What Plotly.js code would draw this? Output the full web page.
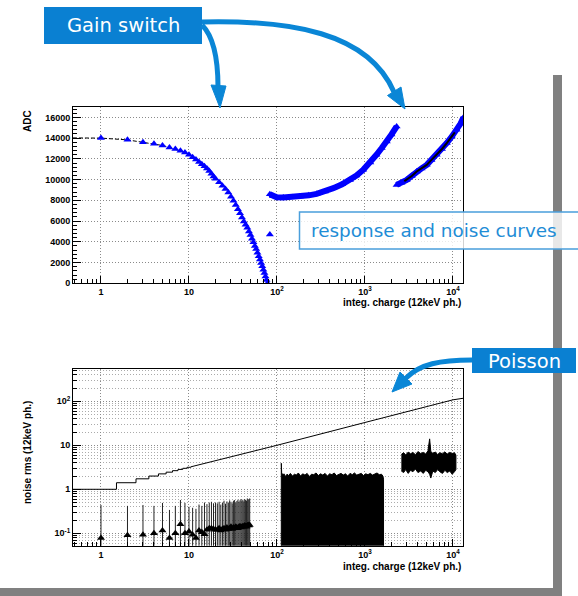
<!DOCTYPE html>
<html><head><meta charset="utf-8">
<script src="https://cdn.plot.ly/plotly-3.0.1.min.js"></script>
<style>html,body{margin:0;padding:0;background:#fff;} #chart{width:578px;height:596px;}</style>
</head><body><div id="chart"></div>
<script>
// ---------------- data ----------------
const xTickVals = [1, 10, 100, 1000, 10000];
const xTickText = ['1', '10', '10<sup>2</sup>', '10<sup>3</sup>', '10<sup>4</sup>'];
const adcTickVals = [0, 2000, 4000, 6000, 8000, 10000, 12000, 14000, 16000];
const adcTickText = ['0', '2000', '4000', '6000', '8000', '10000', '12000', '14000', '16000'];
const noiseTickVals = [0.1, 1, 10, 100];
const noiseTickText = ['10<sup>-1</sup>', '1', '10', '10<sup>2</sup>'];

// response curve, low gain (triangles)
const lowGainX = [1,2,3,4,5,6,7,8,9,10,11,12,13,14,15,16,17,18,19,20,22,24,26,28,30,32,34,36,38,40,42,44,46,48,50,52,54,56,58,60,62,64,66,68,70,72,74,76,78];
const lowGainADC = [14000,13830,13610,13450,13290,13100,12940,12775,12610,12390,12150,11930,11700,11480,11280,11080,10820,10560,10300,10080,9750,9400,9100,8750,8350,7950,7550,7150,6750,6350,5950,5650,5350,5000,4650,4300,3950,3600,3300,2950,2600,2300,1950,1650,1300,1000,650,320,0];
const lowFitX = [0.48,1,2,3,4,5,6,7,8,9,10];
const lowFitADC = [14020,14000,13830,13610,13450,13290,13100,12940,12775,12610,12390];
const strayX = [83];
const strayADC = [4700];
// response curve, medium gain
const midGainX = [83,90,99,118,150,182,230,282,350,437,550,675,800,955,1150,1350,1550,1770,2000,2290];
const midGainADC = [8590,8420,8300,8270,8300,8360,8480,8620,8850,9170,9550,9970,10400,10940,11650,12390,13050,13670,14350,15120];
// response curve, high gain
const highGainX = [2290,2600,2980,3400,3870,4400,5030,5700,6530,7500,8500,9700,11000,12200,13200];
const highGainADC = [9490,9700,9970,10350,10780,11080,11420,11900,12390,12950,13520,14150,14800,15400,16000];
const highFitX = [2800,3400,3870,4400,5030,5700,6530,7500,8500,9700,10500];
const highFitADC = [9850,10350,10780,11080,11420,11900,12390,12950,13520,14150,14550];

// Poisson expectation
const poissonStepX = [0.48,1.5,2.5,3.5,4.5,5.5,6.5,7.5,8.5,9.5,10.5];
const poissonStepY = [1,1.41,1.73,2,2.24,2.45,2.65,2.83,3,3.16,3.24];
const poissonLineX = [10.5,20,50,100,1000,10000,13000];
const poissonLineY = [3.24,4.47,7.07,10,33,108,117];

// noise, low gain (triangles + error bars)
const noiseLowX = [1,2,3,4,5,6,7,8,9,10,11,12,13,14,15,16,17,18,19,20,21,22,23,24,25,26,27,28,29,30,31,32,33,34,35,36,37,38,39,40,41,42,43,44,45,46,47,48,49];
const noiseLowY = [0.078,0.09,0.093,0.1,0.115,0.078,0.1,0.16,0.1,0.11,0.093,0.078,0.115,0.105,0.095,0.12,0.13,0.13,0.125,0.12,0.12,0.13,0.115,0.125,0.13,0.12,0.135,0.125,0.13,0.14,0.125,0.135,0.13,0.14,0.135,0.13,0.14,0.145,0.135,0.14,0.145,0.14,0.15,0.145,0.14,0.15,0.155,0.15,0.155];
const noiseLowTop = [0.44,0.42,0.44,0.42,0.49,0.34,0.42,0.57,0.49,0.4,0.38,0.36,0.45,0.42,0.5,0.46,0.5,0.52,0.48,0.5,0.48,0.52,0.45,0.5,0.55,0.47,0.53,0.5,0.56,0.52,0.48,0.55,0.57,0.5,0.54,0.58,0.52,0.56,0.6,0.55,0.58,0.53,0.6,0.57,0.55,0.62,0.58,0.6,0.62];

// noise, medium gain (dense band: upper envelope)
const noiseMidX = [112,113,116,120,125,130,136,142,150,158,166,175,185,196,208,220,233,247,262,278,295,313,332,352,374,397,421,447,474,503,534,566,600,637,676,717,760,806,855,907,962,1020,1082,1148,1218,1292,1370,1453,1541,1600,1625];
const noiseMidTop = [3.9,2.4,2.1,2.25,1.95,2.2,2.05,2.3,2.0,2.2,2.1,2.35,2.0,2.25,2.1,2.3,1.95,2.2,2.15,2.35,2.05,2.25,2.1,2.3,2.0,2.25,2.15,2.35,2.05,2.2,2.3,2.1,2.25,2.0,2.3,2.15,2.35,2.1,2.2,2.3,2.05,2.25,2.15,2.3,2.1,2.25,2.35,2.15,2.2,2.0,1.7];

// noise, high gain (band: upper and lower envelope)
const noiseHighX = [2590,2750,2900,3100,3300,3500,3750,4000,4300,4600,4900,5200,5430,5600,5900,6300,6700,7100,7600,8100,8600,9200,9800,10400,10800];
const noiseHighTop = [6.2,6.8,6.0,7.0,6.4,6.9,6.1,7.2,6.5,6.9,6.3,7.5,14,7.2,6.6,7.0,6.2,6.8,6.4,7.1,6.3,6.9,6.5,6.8,6.0];
const noiseHighBot = [2.6,2.4,2.8,2.3,2.7,2.5,2.9,2.4,2.6,2.3,2.7,2.5,2.2,1.8,2.6,2.4,2.8,2.5,2.3,2.7,2.4,2.6,2.2,2.5,2.8];

// ---------------- helpers ----------------
const W = 578, H = 596;
const PX = x => x / W;
const PY = y => 1 - y / H;
const pt = (x, y) => PX(x) + ',' + PY(y);
const FLOOR = 0.02; // below the visible bottom of the log noise axis

const minorLog = [];
[0.01, 0.1, 1, 10, 100, 1000, 10000].forEach(d => { for (let k = 2; k <= 9; k++) minorLog.push(+(d * k).toPrecision(3)); });

// ---------------- traces ----------------
const traces = [
  {x: lowFitX, y: lowFitADC, xaxis: 'x', yaxis: 'y', mode: 'lines', line: {color: '#000', width: 1, dash: '4px,2px'}, hoverinfo: 'skip'},
  {x: lowGainX, y: lowGainADC, xaxis: 'x', yaxis: 'y', mode: 'markers', marker: {symbol: 'triangle-up', size: 7, color: '#0000ff'}},
  {x: strayX, y: strayADC, xaxis: 'x', yaxis: 'y', mode: 'markers', marker: {symbol: 'triangle-up', size: 7, color: '#0000ff'}},
  {x: midGainX, y: midGainADC, xaxis: 'x', yaxis: 'y', mode: 'lines+markers', line: {color: '#0000ff', width: 6}, marker: {symbol: 'triangle-up', size: 7, color: '#0000ff'}},
  {x: highGainX, y: highGainADC, xaxis: 'x', yaxis: 'y', mode: 'lines+markers', line: {color: '#0000ff', width: 6}, marker: {symbol: 'triangle-up', size: 7, color: '#0000ff'}},
  {x: highFitX, y: highFitADC, xaxis: 'x', yaxis: 'y', mode: 'lines', line: {color: '#000', width: 2}},

  {x: poissonStepX, y: poissonStepY, xaxis: 'x2', yaxis: 'y2', mode: 'lines', line: {color: '#000', width: 1, shape: 'hv'}},
  {x: poissonLineX, y: poissonLineY, xaxis: 'x2', yaxis: 'y2', mode: 'lines', line: {color: '#000', width: 1}},
  {x: noiseLowX, y: noiseLowY, xaxis: 'x2', yaxis: 'y2', mode: 'markers',
   marker: {symbol: 'triangle-up', size: 7, color: '#000'},
   error_y: {type: 'data', symmetric: false,
             array: noiseLowTop.map((t, i) => t - noiseLowY[i]),
             arrayminus: noiseLowY.map(v => v - FLOOR),
             color: '#222', thickness: 1, width: 0}},
  {x: [noiseMidX[0]].concat(noiseMidX, [noiseMidX[noiseMidX.length - 1]]),
   y: [FLOOR].concat(noiseMidTop, [FLOOR]),
   xaxis: 'x2', yaxis: 'y2', mode: 'lines', fill: 'toself', fillcolor: '#000', line: {color: '#000', width: 1}},
  {x: noiseHighX.concat(noiseHighX.slice().reverse()),
   y: noiseHighTop.concat(noiseHighBot.slice().reverse()),
   xaxis: 'x2', yaxis: 'y2', mode: 'lines', fill: 'toself', fillcolor: '#000', line: {color: '#000', width: 1}}
];

// ---------------- layout ----------------
const tickFont = {family: 'Liberation Sans, Arial, sans-serif', size: 9, color: '#000', weight: 'bold'};
const frame = {showline: true, linecolor: '#000', linewidth: 1, mirror: true, ticks: 'inside', tickcolor: '#000',
               zeroline: false, showgrid: true, gridcolor: '#8a8a8a', gridwidth: 1, griddash: '1px,2px', tickfont: tickFont};
const xDomain = [PX(73), PX(463)];
const xAxisBase = Object.assign({}, frame, {type: 'log', domain: xDomain, range: [-0.318, 4.114],
  tickmode: 'array', tickvals: xTickVals, ticktext: xTickText, ticklen: 7,
  minor: {tickmode: 'array', tickvals: minorLog, ticks: 'inside', ticklen: 4, tickcolor: '#000', showgrid: false}});

const layout = {
  width: W, height: H, margin: {l: 0, r: 0, t: 0, b: 0},
  paper_bgcolor: '#fff', plot_bgcolor: '#fff', showlegend: false,
  font: {family: 'Liberation Sans, Arial, sans-serif', color: '#000'},
  xaxis: Object.assign({}, xAxisBase, {anchor: 'y'}),
  yaxis: Object.assign({}, frame, {anchor: 'x', domain: [PY(283.3), PY(107)], range: [0, 17000],
    tickmode: 'array', tickvals: adcTickVals, ticktext: adcTickText, ticklen: 8,
    minor: {dtick: 400, tick0: 0, ticks: 'inside', ticklen: 4, tickcolor: '#000', showgrid: false}}),
  xaxis2: Object.assign({}, xAxisBase, {anchor: 'y2'}),
  yaxis2: Object.assign({}, frame, {anchor: 'x2', type: 'log', domain: [PY(545.7), PY(369)], range: [-1.282, 2.734],
    tickmode: 'array', tickvals: noiseTickVals, ticktext: noiseTickText, ticklen: 8,
    minor: {tickmode: 'array', tickvals: minorLog, ticks: 'inside', ticklen: 4, tickcolor: '#000',
            showgrid: true, gridcolor: '#ababab', gridwidth: 1, griddash: '1px,2px'}}),
  shapes: [
    // grey slide frame
    {type: 'rect', xref: 'paper', yref: 'paper', x0: PX(553), x1: PX(562), y0: 0, y1: PY(75), fillcolor: '#808080', line: {width: 0}},
    {type: 'rect', xref: 'paper', yref: 'paper', x0: 0, x1: PX(562), y0: 0, y1: PY(588), fillcolor: '#808080', line: {width: 0}},
    // response box
    {type: 'rect', xref: 'paper', yref: 'paper', x0: PX(299.5), x1: 1.05, y0: PY(249), y1: PY(212),
     fillcolor: 'rgba(255,255,255,0.82)', line: {color: '#4a9fdc', width: 1.5}},
    // Gain switch box
    {type: 'rect', xref: 'paper', yref: 'paper', x0: PX(44), x1: PX(202), y0: PY(44), y1: PY(7), fillcolor: '#0a80d2', line: {width: 0}},
    // Poisson box
    {type: 'rect', xref: 'paper', yref: 'paper', x0: PX(472), x1: PX(576), y0: PY(373), y1: PY(348), fillcolor: '#0a80d2', line: {width: 0}},
    // arrows
    {type: 'path', xref: 'paper', yref: 'paper', path: 'M' + pt(202, 25) + ' C' + pt(212, 35) + ' ' + pt(218, 55) + ' ' + pt(218, 87),
     line: {color: '#0a86d6', width: 5}, fillcolor: 'rgba(0,0,0,0)'},
    {type: 'path', xref: 'paper', yref: 'paper', path: 'M' + pt(211, 85) + ' L' + pt(226, 86) + ' L' + pt(220, 108) + ' Z',
     line: {color: '#0a86d6', width: 1}, fillcolor: '#0a86d6'},
    {type: 'path', xref: 'paper', yref: 'paper', path: 'M' + pt(202, 22) + ' C' + pt(290, 20) + ' ' + pt(368, 32) + ' ' + pt(394, 92),
     line: {color: '#0a86d6', width: 5}, fillcolor: 'rgba(0,0,0,0)'},
    {type: 'path', xref: 'paper', yref: 'paper', path: 'M' + pt(387.5, 95.5) + ' L' + pt(401, 87) + ' L' + pt(405, 109) + ' Z',
     line: {color: '#0a86d6', width: 1}, fillcolor: '#0a86d6'},
    {type: 'path', xref: 'paper', yref: 'paper', path: 'M' + pt(472, 360) + ' C' + pt(440, 360) + ' ' + pt(420, 364) + ' ' + pt(406, 378),
     line: {color: '#0a86d6', width: 5}, fillcolor: 'rgba(0,0,0,0)'},
    {type: 'path', xref: 'paper', yref: 'paper', path: 'M' + pt(400, 372) + ' L' + pt(412, 384) + ' L' + pt(392, 392) + ' Z',
     line: {color: '#0a86d6', width: 1}, fillcolor: '#0a86d6'}
  ],
  annotations: [
    {xref: 'paper', yref: 'paper', x: PX(28), y: PY(121), text: 'ADC', textangle: -90, showarrow: false,
     font: {size: 10, weight: 'bold', color: '#000'}, xanchor: 'center', yanchor: 'middle'},
    {xref: 'paper', yref: 'paper', x: PX(463), y: PY(302), text: 'integ. charge (12keV ph.)', showarrow: false,
     font: {size: 10, weight: 'bold', color: '#000'}, xanchor: 'right', yanchor: 'middle'},
    {xref: 'paper', yref: 'paper', x: PX(463), y: PY(566), text: 'integ. charge (12keV ph.)', showarrow: false,
     font: {size: 10, weight: 'bold', color: '#000'}, xanchor: 'right', yanchor: 'middle'},
    {xref: 'paper', yref: 'paper', x: PX(27), y: PY(453), text: 'noise rms (12keV ph.)', textangle: -90, showarrow: false,
     font: {size: 10, weight: 'bold', color: '#000'}, xanchor: 'center', yanchor: 'middle'},
    {xref: 'paper', yref: 'paper', x: PX(123), y: PY(26), text: 'Gain switch', showarrow: false,
     font: {family: 'DejaVu Sans', size: 19.5, color: '#fff'}, xanchor: 'center', yanchor: 'middle'},
    {xref: 'paper', yref: 'paper', x: PX(309), y: PY(230), text: 'response and noise curves', showarrow: false,
     font: {family: 'DejaVu Sans', size: 18.4, color: '#1f8dd6'}, xanchor: 'left', yanchor: 'middle'},
    {xref: 'paper', yref: 'paper', x: PX(524), y: PY(361), text: 'Poisson', showarrow: false,
     font: {family: 'DejaVu Sans', size: 19.5, color: '#fff'}, xanchor: 'center', yanchor: 'middle'}
  ]
};

Plotly.newPlot('chart', traces, layout, {staticPlot: true, displayModeBar: false});
</script>
</body></html>
